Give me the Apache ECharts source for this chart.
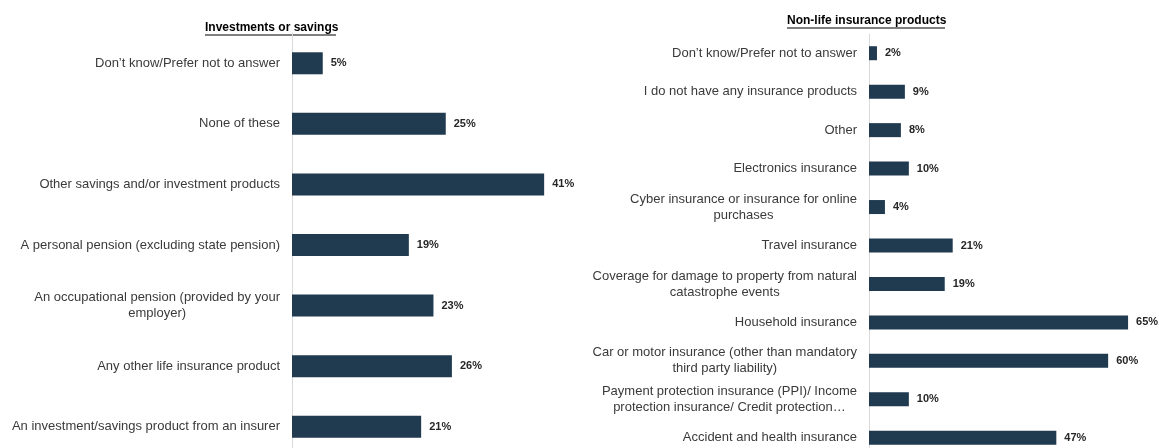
<!DOCTYPE html>
<html>
<head>
<meta charset="utf-8">
<script src="https://cdn.jsdelivr.net/npm/echarts@6/dist/echarts.min.js"></script>
<style>
  html, body { margin: 0; padding: 0; background: #fff; }
  #chart { width: 1159px; height: 448px; }
</style>
</head>
<body>
<div id="chart"></div>
<script>
const savingsCategories = [
  "Don’t know/Prefer not to answer",
  "None of these",
  "Other savings and/or investment products",
  "A personal pension (excluding state pension)",
  "An occupational pension (provided by your\nemployer)",
  "Any other life insurance product",
  "An investment/savings product from an insurer"
];
const savingsValues = [5, 25, 41, 19, 23, 26, 21];

const nonLifeCategories = [
  "Don’t know/Prefer not to answer",
  "I do not have any insurance products",
  "Other",
  "Electronics insurance",
  "Cyber insurance or insurance for online\npurchases",
  "Travel insurance",
  "Coverage for damage to property from natural\ncatastrophe events",
  "Household insurance",
  "Car or motor insurance (other than mandatory\nthird party liability)",
  "Payment protection insurance (PPI)/ Income\nprotection insurance/ Credit protection…",
  "Accident and health insurance"
];
const nonLifeValues = [2, 9, 8, 10, 4, 21, 19, 65, 60, 10, 47];

const FONT = '"Liberation Sans", Arial, sans-serif';
const BAR = "#203a50";

const chart = echarts.init(document.getElementById("chart"));

// category labels: block right-aligned, wrapped lines centred
const catLabel = {
  margin: 12,
  color: "#3a3a3a",
  fontFamily: FONT,
  fontSize: 13,
  formatter: (v) => "{c|" + v + "}",
  rich: { c: { align: "center", fontFamily: FONT, fontSize: 13, color: "#3a3a3a", lineHeight: 16 } }
};

const valueLabel = {
  show: true,
  position: "right",
  distance: 8,
  formatter: "{c}%",
  color: "#262626",
  fontFamily: FONT,
  fontSize: 11,
  fontWeight: "bold"
};

const option = {
  animation: false,
  grid: [
    { left: 292, top: 33, width: 369, height: 424, outerBoundsMode: "none" },
    { left: 869, top: 34, width: 279, height: 423, outerBoundsMode: "none" }
  ],
  xAxis: [
    { gridIndex: 0, type: "value", min: 0, max: 60, show: false },
    { gridIndex: 1, type: "value", min: 0, max: 70, show: false }
  ],
  yAxis: [
    {
      gridIndex: 0, type: "category", inverse: true, data: savingsCategories,
      axisLine: { lineStyle: { color: "#d9d9d9", width: 1 } },
      axisTick: { show: false },
      axisLabel: catLabel
    },
    {
      gridIndex: 1, type: "category", inverse: true, data: nonLifeCategories,
      axisLine: { lineStyle: { color: "#d9d9d9", width: 1 } },
      axisTick: { show: false },
      axisLabel: catLabel
    }
  ],
  graphic: [
    { type: "text", left: 205, top: 22, style: { text: "Investments or savings", font: "bold 12px " + FONT, fill: "#000" } },
    { type: "line", shape: { x1: 205, y1: 35, x2: 336, y2: 35 }, style: { stroke: "#000", lineWidth: 1 } },
    { type: "text", left: 787, top: 15, style: { text: "Non-life insurance products", font: "bold 12px " + FONT, fill: "#000" } },
    { type: "line", shape: { x1: 787, y1: 28, x2: 945, y2: 28 }, style: { stroke: "#000", lineWidth: 1 } }
  ],
  series: [
    {
      type: "bar", xAxisIndex: 0, yAxisIndex: 0, data: savingsValues,
      barWidth: 22, itemStyle: { color: BAR }, label: valueLabel
    },
    {
      type: "bar", xAxisIndex: 1, yAxisIndex: 1, data: nonLifeValues,
      barWidth: 14, itemStyle: { color: BAR }, label: valueLabel
    }
  ]
};

chart.setOption(option);
</script>
</body>
</html>
